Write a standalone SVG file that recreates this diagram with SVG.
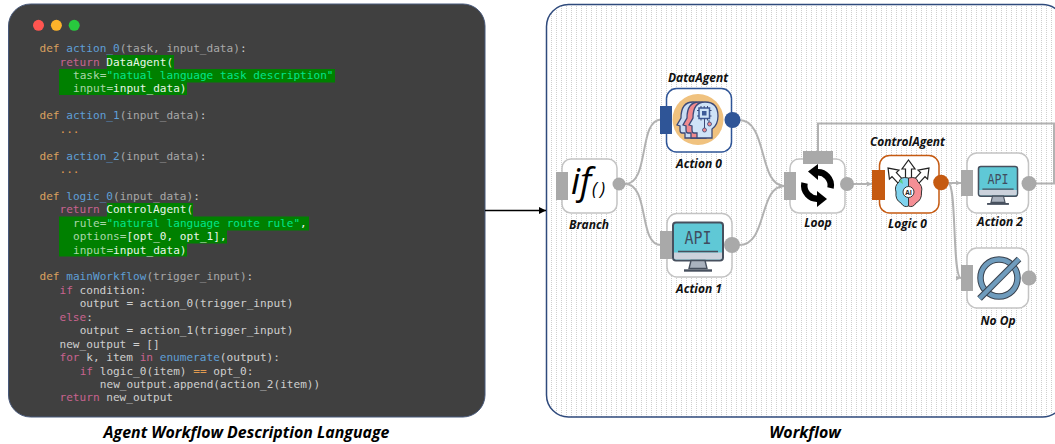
<svg xmlns="http://www.w3.org/2000/svg" width="1055" height="444" viewBox="0 0 1055 444">
<style>
.code{font-family:"DejaVu Sans Mono","Liberation Mono",monospace;font-size:11.1px;fill:#cfcfcf}
.k{fill:#d9a05f}.f{fill:#5f9fd6}.a{fill:#a8a8a8}.r{fill:#c8638f}.s{fill:#00e68a}.h{fill:#a9d6a9}.w{fill:#e8f5e8}.o{fill:#e09a50}
.hl{fill:#008000}
.box{fill:#fff;stroke:#c4c4c4;stroke-width:1.5}
.port{fill:#a9a9a9}
.lbl{font-family:"Open Sans","Liberation Sans",sans-serif;font-weight:700;font-style:italic;font-size:12px;fill:#111;text-anchor:middle}
.cap{font-family:"Open Sans","Liberation Sans",sans-serif;font-weight:700;font-style:italic;font-size:15.9px;fill:#000;text-anchor:middle}
.wire{fill:none;stroke:#b2b2b2;stroke-width:2}
.api{font-family:"DejaVu Sans Mono","Liberation Mono",monospace;fill:#3f4d60;text-anchor:middle}
</style>
<defs>
<pattern id="dots" width="5" height="2" patternUnits="userSpaceOnUse" x="1"><rect width="1" height="1" fill="#cfcfcf"/></pattern>
<marker id="ah" markerUnits="userSpaceOnUse" markerWidth="8" markerHeight="8" refX="7" refY="4" orient="auto"><path d="M0,0.5 7,4 0,7.5z" fill="#000"/></marker>
<marker id="gh" markerUnits="userSpaceOnUse" markerWidth="6" markerHeight="6" refX="5" refY="3" orient="auto"><path d="M0,0.5 5,3 0,5.5z" fill="#b2b2b2"/></marker>
<g id="monitor">
<rect x="0" y="0" width="50" height="38" rx="3" fill="#5fc8d6" stroke="#47505e" stroke-width="2"/>
<path d="M1,30H49V35Q49,37 47,37H3Q1,37 1,35z" fill="#ccd2dc"/>
<path d="M5,29H45" stroke="#47505e" stroke-width="1.6"/>
<path d="M18,38H32L34,46H16z" fill="#aab2be" stroke="#47505e" stroke-width="1.4"/>
<path d="M11,48H39" stroke="#47505e" stroke-width="2.4"/>
</g>
<path id="headshape" d="M697,138V133H694Q692,133 692,130V126L689,125L693,118Q693,102 705,102Q718,102 718,116Q718,125 712,129V138Z" stroke="#3d4a78" stroke-width="1.3"/>
<path id="arrowup" d="M905.500,182V169H902L908.500,160L915,169H911.500V182z" fill="#fff" stroke="#222" stroke-width="1.200"/>
</defs>

<g id="code-panel">
<rect x="8.5" y="4" width="476.5" height="413" rx="22" fill="#404040" stroke="#47587a" stroke-width="1"/>
<circle cx="38.5" cy="25.3" r="5.5" fill="#ff5550"/>
<circle cx="56.4" cy="25.3" r="5.5" fill="#fdb32a"/>
<circle cx="74.2" cy="25.3" r="5.5" fill="#28c83e"/>
<rect class="hl" x="107" y="55" width="67" height="14"/>
<rect class="hl" x="59" y="69" width="276" height="13.5"/>
<rect class="hl" x="59" y="82" width="128" height="13"/>
<rect class="hl" x="107" y="203" width="86" height="14"/>
<rect class="hl" x="59" y="216.5" width="250" height="14"/>
<rect class="hl" x="59" y="230" width="168" height="13.5"/>
<rect class="hl" x="59" y="243" width="128" height="13.5"/>
<g class="code" xml:space="preserve">
<text class="code" x="39.5" y="52"><tspan class="k">def</tspan> <tspan class="f">action_0</tspan><tspan class="a">(task, input_data)</tspan>:</text>
<text class="code" x="59.5" y="65.5"><tspan class="r">return</tspan> <tspan class="w">DataAgent(</tspan></text>
<text class="code" x="73" y="79"><tspan class="h">task=</tspan><tspan class="s">"natual language task description"</tspan></text>
<text class="code" x="73" y="92.4"><tspan class="h">input=</tspan><tspan class="w">input_data)</tspan></text>
<text class="code" x="39.5" y="119"><tspan class="k">def</tspan> <tspan class="f">action_1</tspan><tspan class="a">(input_data)</tspan>:</text>
<text class="code o" x="59.5" y="132.5">...</text>
<text class="code" x="39.5" y="159.8"><tspan class="k">def</tspan> <tspan class="f">action_2</tspan><tspan class="a">(input_data)</tspan>:</text>
<text class="code o" x="59.5" y="173">...</text>
<text class="code" x="39.5" y="200"><tspan class="k">def</tspan> <tspan class="f">logic_0</tspan><tspan class="a">(input_data)</tspan>:</text>
<text class="code" x="59.5" y="213"><tspan class="r">return</tspan> <tspan class="w">ControlAgent(</tspan></text>
<text class="code" x="73" y="227"><tspan class="h">rule=</tspan><tspan class="s">"natural language route rule"</tspan><tspan class="w">,</tspan></text>
<text class="code" x="73" y="240.3"><tspan class="h">options=</tspan><tspan class="w">[opt_0, opt_1],</tspan></text>
<text class="code" x="73" y="254"><tspan class="h">input=</tspan><tspan class="w">input_data)</tspan></text>
<text class="code" x="39.5" y="280"><tspan class="k">def</tspan> <tspan class="f">mainWorkflow</tspan><tspan class="a">(trigger_input)</tspan>:</text>
<text class="code" x="59.5" y="294"><tspan class="r">if</tspan> condition:</text>
<text class="code" x="79.7" y="307">output = action_0(trigger_input)</text>
<text class="code" x="59.5" y="321"><tspan class="r">else</tspan>:</text>
<text class="code" x="79.7" y="334">output = action_1(trigger_input)</text>
<text class="code" x="59.5" y="348">new_output = []</text>
<text class="code" x="59.5" y="361"><tspan class="r">for</tspan> k, item <tspan class="r">in</tspan> <tspan class="f">enumerate</tspan>(output):</text>
<text class="code" x="79.7" y="375"><tspan class="r">if</tspan> logic_0(item) <tspan class="o">==</tspan> opt_0:</text>
<text class="code" x="99.8" y="388">new_output.append(action_2(item))</text>
<text class="code" x="59.5" y="401"><tspan class="r">return</tspan> new_output</text>
</g>
</g>
<text class="cap" x="246.5" y="438">Agent Workflow Description Language</text>

<g id="workflow-panel">
<rect x="546.5" y="4.5" width="518" height="412.5" rx="22" fill="#fff"/>
<rect x="546.5" y="4.5" width="518" height="412.5" rx="22" fill="url(#dots)" stroke="#2f4a7c" stroke-width="1.5"/>
</g>
<text class="cap" x="805" y="438">Workflow</text>

<g id="connectors">
<path d="M485,210.5H546" stroke="#000" stroke-width="1.6" fill="none" marker-end="url(#ah)"/>
<path class="wire" d="M625,184C650,184 638,120 661,119.5"/>
<path class="wire" d="M625,184C650,184 638,245 661,245"/>
<path class="wire" d="M739,120C768,120 758,185 784,186" marker-end="url(#gh)"/>
<path class="wire" d="M739,245C768,245 758,187 784,186" marker-end="url(#gh)"/>
<path class="wire" d="M853,184H872" marker-end="url(#gh)"/>
<path class="wire" d="M948,183H961" marker-end="url(#gh)"/>
<path class="wire" d="M948,183C957,183 952,278 961,278" marker-end="url(#gh)"/>
<path class="wire" d="M1035,183.500H1054V123.500H818V151"/>
</g>

<g id="branch">
<rect class="box" x="562" y="159" width="55" height="54" rx="9"/>
<rect class="port" x="556" y="172" width="12" height="28"/>
<circle class="port" cx="619" cy="184" r="6.500"/>
<text x="571" y="194" font-family="Open Sans,Liberation Sans,sans-serif" font-style="italic" font-size="36" fill="#000">if</text>
<text x="592" y="195" font-family="Open Sans,Liberation Sans,sans-serif" font-style="italic" font-size="18" letter-spacing="3" fill="#000">()</text>
<text class="lbl" x="589" y="229">Branch</text>
</g>

<g id="action0">
<text class="lbl" x="698" y="82">DataAgent</text>
<rect x="666.500" y="88.500" width="65" height="63.500" rx="10" fill="#fff" stroke="#2f5597" stroke-width="1.500"/>
<circle cx="698" cy="119.500" r="25.500" fill="#f0c27f"/>
<use href="#headshape" transform="translate(-12,0)" fill="#c9dcf2"/>
<use href="#headshape" transform="translate(-6,0)" fill="#f08a8e"/>
<use href="#headshape" fill="#cfe3f7"/>
<rect x="699" y="108" width="10.500" height="10.500" fill="#cfe3f7" stroke="#3d5a98" stroke-width="1.500"/>
<rect x="702" y="111" width="4.500" height="4.500" fill="#3d5a98"/>
<path d="M701,106V108M704.200,106V108M707.500,106V108M701,118.500V120.500M707.500,118.500V120.500M697,110.500H699M697,116H699M709.500,110.500H711.500M709.500,116H711.500M704.500,118.500V129M709,120V123" stroke="#3d4a78" stroke-width="1" fill="none"/>
<circle cx="704.500" cy="130" r="2" fill="#f08a8e" stroke="#3d4a78" stroke-width=".8"/>
<circle cx="709.500" cy="124" r="2" fill="#f08a8e" stroke="#3d4a78" stroke-width=".8"/>
<rect x="660" y="106" width="12" height="28" fill="#2f5597"/>
<circle cx="732.500" cy="120" r="8" fill="#2f5597"/>
<text class="lbl" x="699" y="168">Action 0</text>
</g>

<g id="action1">
<rect class="box" x="667" y="213.500" width="65" height="63.500" rx="10"/>
<use href="#monitor" x="673" y="222.500"/>
<text class="api" x="698" y="243.500" font-size="18" textLength="27" lengthAdjust="spacingAndGlyphs">API</text>
<rect class="port" x="660" y="231" width="12" height="28"/>
<circle class="port" cx="732" cy="245" r="8"/>
<text class="lbl" x="699" y="293">Action 1</text>
</g>

<g id="loop">
<rect class="box" x="790" y="159" width="55" height="54" rx="9"/>
<path d="M816,172.500A13,13 0 0 1 830.500,188" fill="none" stroke="#000" stroke-width="6.500"/>
<path d="M818,164L808,171.500L818,180z" fill="#000"/>
<path d="M819,198.500A13,13 0 0 1 804.500,183" fill="none" stroke="#000" stroke-width="6.500"/>
<path d="M817,191L827,199L817,207z" fill="#000"/>
<rect class="port" x="784" y="172" width="12" height="28"/>
<rect class="port" x="803" y="151" width="30" height="13"/>
<circle class="port" cx="847" cy="184" r="7"/>
<text class="lbl" x="818" y="227">Loop</text>
</g>

<g id="logic0">
<text class="lbl" x="907.500" y="146">ControlAgent</text>
<rect x="879.500" y="155.500" width="59.500" height="57.500" rx="10" fill="#fff" stroke="#c55a11" stroke-width="1.500"/>
<use href="#arrowup" transform="rotate(-43 908.500 190)"/>
<use href="#arrowup" transform="rotate(43 908.500 190)"/>
<use href="#arrowup"/>
<path d="M908.500,178Q900,176 899,182Q894,186 896,192Q895,200 901,203Q904,208 908.500,206z" fill="#7fd3ee" stroke="#333" stroke-width="1"/>
<path d="M908.500,178Q917,176 918,182Q923,186 921.500,192Q922,200 916,203Q913,208 908.500,206z" fill="#f58f95" stroke="#333" stroke-width="1"/>
<path d="M902,179.500Q900,179 899.500,182L903,184z" fill="#5ccf8a"/>
<circle cx="908.500" cy="192" r="5.500" fill="#fff" stroke="#333" stroke-width="1"/>
<text x="908.500" y="194.500" font-family="Open Sans,Liberation Sans,sans-serif" font-size="6.500" font-weight="700" text-anchor="middle" fill="#222">AI</text>
<rect x="872" y="170" width="13" height="30" fill="#c55a11"/>
<circle cx="941" cy="182.500" r="7.800" fill="#c55a11"/>
<text class="lbl" x="907.500" y="228">Logic 0</text>
</g>

<g id="action2">
<rect class="box" x="967" y="153" width="61.500" height="60" rx="10"/>
<use href="#monitor" transform="translate(978.500,166.500) scale(.78)"/>
<text class="api" x="998" y="183.500" font-size="14" textLength="21" lengthAdjust="spacingAndGlyphs">API</text>
<rect class="port" x="961" y="170" width="12" height="26"/>
<circle class="port" cx="1029" cy="183.500" r="7.500"/>
<text class="lbl" x="1000" y="226">Action 2</text>
</g>

<g id="noop">
<rect class="box" x="967" y="248" width="61.500" height="60" rx="10"/>
<circle cx="999" cy="278" r="18.500" fill="#fff" stroke="#39424e" stroke-width="6.500"/>
<circle cx="999" cy="278" r="18.500" fill="none" stroke="#6f9cbd" stroke-width="4.500"/>
<path d="M979.500,298.500L1019,259" stroke="#39424e" stroke-width="6.500"/>
<path d="M979.500,298.500L1019,259" stroke="#6f9cbd" stroke-width="4.500"/>
<rect class="port" x="961" y="265" width="12" height="26"/>
<circle class="port" cx="1029" cy="278" r="7.500"/>
<text class="lbl" x="998" y="325">No Op</text>
</g>
</svg>
